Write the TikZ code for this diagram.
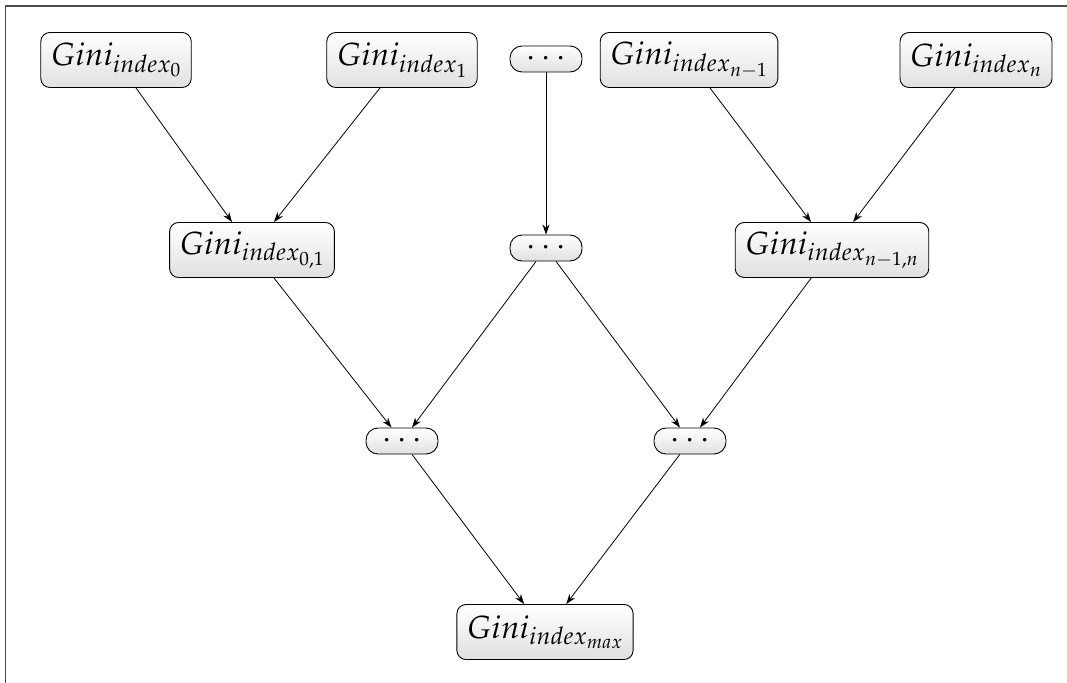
\documentclass[tikz,border=0pt]{standalone}
\usepackage{mathpazo}
\usetikzlibrary{arrows.meta}
\begin{document}
\begin{tikzpicture}[x=1pt,y=-1pt,
  every node/.style={font=\fontsize{32}{38}\selectfont},
  gbox/.style={draw, rounded corners=9pt, top color=white, bottom color=black!12,
    minimum height=55pt, inner xsep=10pt, inner ysep=0pt, line width=0.9pt},
  dbox/.style={draw, rounded corners=12pt, top color=white, bottom color=black!12,
    minimum height=26pt, minimum width=72pt, inner sep=0pt, line width=0.9pt},
  link/.style={-{Stealth[length=10pt,width=7pt]}, line width=0.8pt}]
\useasboundingbox (0,0) rectangle (1067,682);
% open frame
\draw[black!70, line width=1.3pt] (1070,6) -- (5.5,6) -- (5.5,690);

% leaves
\node[gbox] (g0) at (116,60) {$Gini_{index_0}$};
\node[gbox] (g1) at (402,60) {$Gini_{index_1}$};
\node[dbox] (dt) at (546,59) {$\cdots$};
\node[gbox] (gm) at (689,60) {$Gini_{index_{n-1}}$};
\node[gbox] (gn) at (976,60) {$Gini_{index_n}$};

% second level
\node[gbox] (g01) at (252,250) {$Gini_{index_{0,1}}$};
\node[dbox] (dm) at (546,248) {$\cdots$};
\node[gbox] (gmn) at (832,250) {$Gini_{index_{n-1,n}}$};

% third level
\node[dbox] (dl) at (402,441) {$\cdots$};
\node[dbox] (dr) at (690,441) {$\cdots$};

% root
\node[gbox] (gmax) at (545,632) {$Gini_{index_{max}}$};

% connectors
\draw[link] (g0) -- (g01);
\draw[link] (g1) -- (g01);
\draw[link] (dt) -- (dm);
\draw[link] (gm) -- (gmn);
\draw[link] (gn) -- (gmn);
\draw[link] (g01) -- (dl);
\draw[link] (dm) -- (dl);
\draw[link] (dm) -- (dr);
\draw[link] (gmn) -- (dr);
\draw[link] (dl) -- (gmax);
\draw[link] (dr) -- (gmax);
\end{tikzpicture}
\end{document}
